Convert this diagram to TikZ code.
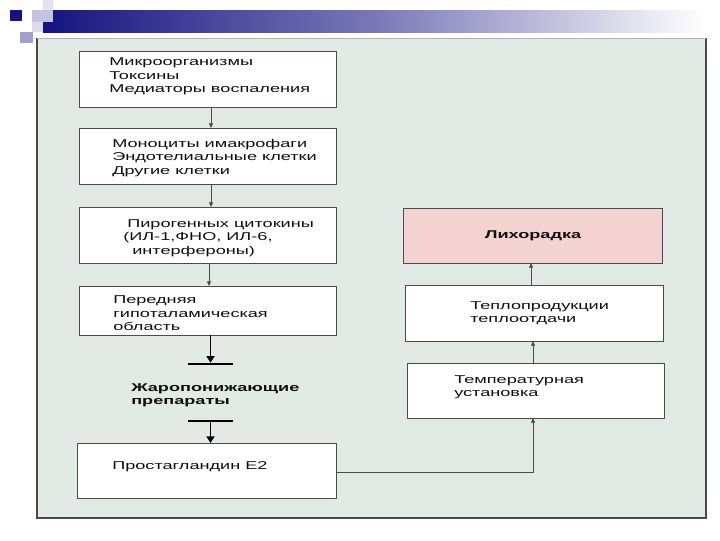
\documentclass[tikz,border=0pt]{standalone}
\usepackage{fontspec}
\setmainfont{Liberation Sans}
\newfontfamily\wf[FakeStretch=1.6]{Liberation Sans}
\usetikzlibrary{arrows.meta,calc}
\definecolor{panelfill}{RGB}{226,234,230}
\definecolor{panelline}{RGB}{70,74,72}
\definecolor{boxline}{RGB}{75,75,75}
\definecolor{navy}{RGB}{20,20,128}
\definecolor{navymid}{RGB}{120,120,185}
\definecolor{sqa}{RGB}{196,196,226}
\definecolor{sqb}{RGB}{226,226,240}
\definecolor{sqc}{RGB}{160,160,204}
\definecolor{sqd}{RGB}{220,220,236}
\definecolor{feverfill}{RGB}{244,210,210}
\definecolor{txt}{RGB}{15,15,15}
\begin{document}
\begin{tikzpicture}[x=0.75pt,y=-0.75pt,
  box/.style={draw=boxline,line width=0.6pt,fill=white,inner sep=0pt,outer sep=0pt,
     minimum width=192.75pt,minimum height=42pt},
  lbl/.style={font=\wf\fontsize{8.5}{10.1}\selectfont,text=txt,inner sep=0pt,anchor=west,align=left},
  blbl/.style={lbl,font=\wf\bfseries\fontsize{8.5}{10.1}\selectfont},
  arr/.style={draw=boxline,line width=0.6pt,-{Triangle[length=3.5pt,width=3pt]}},
  barnode/.style={fill=black,draw=none,inner sep=0pt,minimum width=33.75pt,minimum height=1.5pt},
  thickarr/.style={draw=black,line width=1.4pt,-{Triangle[length=5pt,width=6pt]}}]
\useasboundingbox (0,0) rectangle (720,540);
% header decoration
\shade[left color=navy,right color=white,middle color=navymid] (43,10) rectangle (705,32);
\fill[navy] (10,10) rectangle (22,21);
\fill[sqa] (32,10) rectangle (53,22);
\fill[sqb] (43,0) rectangle (53,10);
\fill[sqc] (20,32) rectangle (33,43);
\fill[sqd] (32,22) rectangle (43,32);
% panel
\fill[panelfill] (37,38) rectangle (706,518);
\draw[panelline,line width=0.8pt] (37,38) -- (37,518) -- (706,518) -- (706,38);
\draw[gray!60,line width=0.6pt] (37,38) -- (706,38);
% boxes
\node[box] (b1) at (207.5,79) {};
\node[box] (b2) at (207.5,156) {};
\node[box] (b3) at (207.5,235) {};
\node[box,minimum height=36.75pt] (b4) at (207.5,310.5) {};
\node[box,minimum width=194.25pt,minimum height=41.25pt] (b5) at (206.5,470.5) {};
\node[box,minimum width=194.25pt,minimum height=41.25pt,fill=feverfill] (fever) at (532.5,235.5) {};
\node[box,minimum width=193.5pt] (heat) at (534,313) {};
\node[box,minimum height=41.25pt] (temp) at (535.5,390.5) {};
% texts
\node[lbl] (t1) at (109,76.5) {Микроорганизмы\\Токсины\\Медиаторы воспаления};
\node[lbl] (t2) at (112,158) {Моноциты имакрофаги\\Эндотелиальные клетки\\Другие клетки};
\node[lbl] (t3) at (123,238) {\hspace*{3pt}Пирогенных цитокины\\(ИЛ-1,ФНО, ИЛ-6,\\\hspace*{6.75pt}интерфероны)};
\node[lbl] (t4) at (113,313.5) {Передняя\\гипоталамическая\\область};
\node[blbl] (t5) at (131,395) {Жаропонижающие\\препараты};
\node[lbl] (t6) at (112,467) {Простагландин Е2};
\node[blbl,anchor=center] (t7) at (533,235.5) {Лихорадка};
\node[lbl] (t8) at (470,313) {Теплопродукции\\теплоотдачи};
\node[lbl] (t9) at (454,387) {Температурная\\установка};
% bars
\node[barnode] (bar1) at (210.5,364) {};
\node[barnode] (bar2) at (210.5,421) {};
% connectors
\coordinate (xa) at (211,0);
\coordinate (xb) at (209,0);
\coordinate (xc) at (533,0);
\coordinate (xd) at (531,0);
\coordinate (yb) at (0,472);
\draw[arr] (b1.south -| xa) -- (b2.north -| xa);
\draw[arr] (b2.south -| xa) -- (b3.north -| xa);
\draw[arr] (b3.south -| xb) -- (b4.north -| xb);
\draw[thickarr] (b4.south -| bar1) -- (bar1.north);
\draw[thickarr] (bar2.south) -- (b5.north -| bar2);
\draw[arr] (b5.east |- yb) -| (temp.south -| xc);
\draw[arr] (temp.north -| xc) -- (heat.south -| xc);
\draw[arr] (heat.north -| xd) -- (fever.south -| xd);
\end{tikzpicture}
\end{document}
